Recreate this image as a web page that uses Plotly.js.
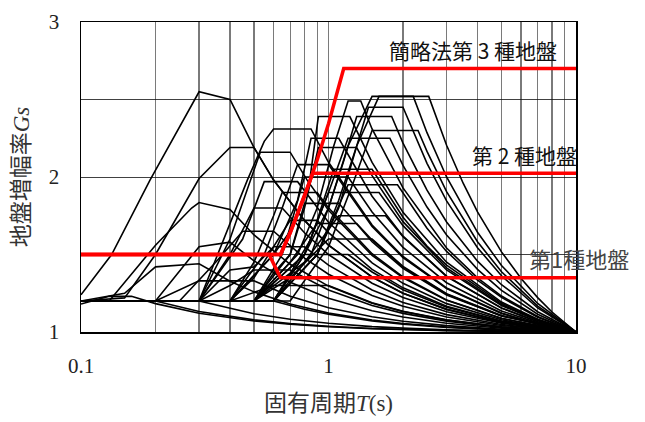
<!DOCTYPE html>
<html><head><meta charset="utf-8">
<script src="https://cdn.plot.ly/plotly-3.0.1.min.js"></script>
<style>body{margin:0;background:#fff}#c{width:645px;height:422px}</style>
</head><body><div id="c"></div>
<script>
// Axis ticks
const xTickVals = [0.1, 1, 10];
const xTickText = ['0.1', '1', '10'];
const xMinorVals = [0.2,0.3,0.4,0.5,0.6,0.7,0.8,0.9,2,3,4,5,6,7,8,9];
const yTickVals = [1, 2, 3];
const yMinorVals = [1.5, 2.5];

// Simplified method (red)
const R1_T = [0.1, 0.576, 0.6, 0.64, 10];
const R1_G = [1.5, 1.5, 1.44, 1.35, 1.35];
const R2_T = [0.1, 0.64, 0.7, 0.8, 0.864, 10];
const R2_G = [1.5, 1.5, 1.64, 1.875, 2.025, 2.025];
const R3_T = [0.1, 0.64, 0.7, 0.8, 0.9, 1.0, 1.152, 10];
const R3_G = [1.5, 1.5, 1.64, 1.875, 2.11, 2.344, 2.7, 2.7];

// Individual site curves (black)
const T01=[0.1,0.2,0.3,0.5,0.7,1,1.5,2,3,5,10];
const G01=[1.2,1.2,1.132,1.078,1.054,1.037,1.023,1.016,1.01,1.004,1];
const T02=[0.1,0.13,0.16,0.2,0.3,0.5,0.7,1,1.5,2,3,5,10];
const G02=[1.18,1.23,1.23,1.183,1.121,1.071,1.05,1.034,1.021,1.015,1.009,1.004,1];
const T03=[0.1,0.3,0.5,0.7,1,1.5,2,3,5,10];
const G03=[1.2,1.2,1.118,1.082,1.056,1.035,1.025,1.014,1.006,1];
const T04=[0.1,0.6,0.8,1,1.5,2,3,5,10];
const G04=[1.2,1.2,1.147,1.115,1.072,1.051,1.03,1.013,1];
const T05=[0.1,0.133,0.19,0.3,0.4,0.5,0.6,0.8,1,1.5,2,3,5,10];
const G05=[1.24,1.5,1.98,2.55,2.5,2.19,1.98,1.72,1.56,1.354,1.25,1.146,1.06,1];
const T06=[0.1,0.13,0.2,0.28,0.3,0.4,0.5,0.7,1,1.5,2,3,5,10];
const G06=[1.2,1.2,1.56,1.8,1.835,1.79,1.626,1.437,1.296,1.186,1.132,1.077,1.033,1];
const T08=[0.1,0.15,0.2,0.3,0.4,0.5,0.7,1,1.5,2,3,5,10];
const G08=[1.2,1.25,1.42,1.44,1.327,1.259,1.181,1.122,1.077,1.055,1.032,1.014,1];
const T09=[0.1,0.2,0.3,0.4,0.5,0.7,1,1.5,2,3,5,10];
const G09=[1.2,1.2,1.55,1.58,1.459,1.321,1.218,1.137,1.097,1.056,1.024,1];
const T10=[0.1,0.15,0.2,0.25,0.3,0.4,0.5,0.6,0.8,1,1.5,2,3,5,10];
const G10=[1.2,1.22,1.5,1.77,1.99,2.19,2.19,1.98,1.72,1.56,1.355,1.25,1.146,1.063,1];
const T11=[0.1,0.2,0.3,0.5,0.7,1,1.5,2,3,5,10];
const G11=[1.2,1.2,1.33,1.33,1.231,1.156,1.098,1.069,1.041,1.017,1];
const T12=[0.1,0.3,0.47,0.55,0.6,0.85,1,1.5,2,3,5,7,10];
const G12=[1.2,1.2,1.98,2.23,2.31,2.31,2.095,1.69,1.487,1.284,1.122,1.052,1];
const T13=[0.1,0.3,0.4,0.53,0.7,0.82,1,1.5,2,3,5,10];
const G13=[1.2,1.2,1.6,2.16,2.16,1.98,1.785,1.495,1.349,1.204,1.087,1];
const T14=[0.1,0.3,0.45,0.55,0.75,1,1.5,2,3,5,7,10];
const G14=[1.2,1.2,1.6,1.97,1.97,1.708,1.446,1.314,1.183,1.079,1.034,1];
const T15=[0.1,0.3,0.4,0.5,0.65,0.8,1,1.5,2,3,5,10];
const G15=[1.2,1.2,1.5,1.8,1.8,1.64,1.5,1.315,1.222,1.13,1.056,1];
const T16=[0.1,0.25,0.35,0.45,0.6,0.8,1,1.5,2,3,5,10];
const G16=[1.2,1.2,1.45,1.65,1.65,1.477,1.373,1.235,1.166,1.097,1.042,1];
const T17=[0.1,0.4,0.5,0.6,0.65,0.9,1,1.5,2,3,5,7,10];
const G17=[1.2,1.2,1.45,1.75,1.9,1.9,1.801,1.505,1.356,1.207,1.089,1.039,1];
const T18=[0.1,0.4,0.55,0.65,0.75,1,1.5,2,3,5,7,10];
const G18=[1.2,1.2,1.5,1.8,2.08,2.08,1.68,1.48,1.28,1.12,1.052,1];
const T19=[0.1,0.3,0.4,0.5,0.6,0.7,0.9,1,1.5,2,3,5,10];
const G19=[1.2,1.2,1.4,1.42,1.55,1.72,1.72,1.641,1.404,1.285,1.166,1.071,1];
const T20=[0.1,0.4,0.5,0.6,0.8,1,1.5,2,3,5,10];
const G20=[1.2,1.2,1.35,1.55,1.55,1.431,1.271,1.191,1.112,1.048,1];
const T21=[0.1,0.3,0.4,0.5,0.7,1,1.5,2,3,5,10];
const G21=[1.2,1.2,1.3,1.4,1.4,1.271,1.171,1.12,1.07,1.03,1];
const T22=[0.1,0.4,0.6,0.7,0.84,0.91,1.22,1.5,2,3,5,7,10];
const G22=[1.2,1.2,1.5,1.65,1.98,2.39,2.39,2.094,1.772,1.45,1.193,1.083,1];
const T23=[0.1,0.4,0.6,0.75,0.85,1.1,1.5,2,3,5,7,10];
const G23=[1.2,1.2,1.5,1.85,2.25,2.25,1.876,1.618,1.36,1.155,1.066,1];
const T24=[0.1,0.5,0.65,0.8,1.2,1.5,2,3,5,7,10];
const G24=[1.2,1.2,1.5,2.0,2.0,1.774,1.546,1.318,1.136,1.059,1];
const T25=[0.1,0.5,0.6,0.7,0.8,1.1,1.5,2,3,5,10];
const G25=[1.2,1.2,1.38,1.5,1.83,1.83,1.582,1.41,1.239,1.103,1];
const T26=[0.1,0.5,0.8,1.0,1.2,1.5,2.54,3,3.5,4,5,6,7,8,10];
const G26=[1.2,1.2,1.5,1.8,2.2,2.52,2.52,2.205,1.96,1.775,1.517,1.345,1.222,1.129,1];
const T27=[0.1,0.6,0.9,1.1,1.3,1.6,2.2,2.5,3,4,5,7,10];
const G27=[1.2,1.2,1.5,1.8,2.2,2.52,2.52,2.286,2.0,1.643,1.429,1.184,1];
const T28=[0.1,0.5,0.75,0.9,1.05,1.2,1.35,1.5,2,3,4,5,7,10];
const G28=[1.2,1.2,1.5,1.8,2.2,2.49,2.49,2.31,1.93,1.542,1.349,1.232,1.1,1];
const T29=[0.1,0.6,0.85,1.0,1.15,1.3,1.8,2,2.5,3,4,5,7,10];
const G29=[1.2,1.2,1.5,1.8,2.1,2.39,2.39,2.219,1.915,1.71,1.457,1.305,1.131,1];
const T30=[0.1,0.6,0.8,1.0,1.2,1.77,2,2.5,3,4,5,7,10];
const G30=[1.2,1.2,1.5,1.9,2.25,2.25,2.075,1.806,1.626,1.404,1.269,1.115,1];
const T31=[0.1,0.5,0.7,0.8,0.91,1.3,1.5,2,3,5,7,10];
const G31=[1.2,1.2,1.5,1.8,2.19,2.19,2.009,1.712,1.414,1.177,1.076,1];
const T33=[0.1,0.6,0.85,1.05,1.5,2,2.5,3,5,7,10];
const G33=[1.2,1.2,1.6,2.05,2.05,1.74,1.555,1.432,1.185,1.08,1];
const T34=[0.1,0.6,0.8,1.0,1.6,2,3,5,7,10];
const G34=[1.2,1.2,1.5,1.9,1.9,1.686,1.4,1.171,1.074,1];
const T35=[0.1,0.5,0.7,0.9,1.3,1.5,2,3,5,10];
const G35=[1.2,1.2,1.45,1.7,1.7,1.594,1.419,1.244,1.104,1];
const T36=[0.1,0.5,0.8,1.2,1.5,2,3,5,10];
const G36=[1.2,1.2,1.5,1.5,1.387,1.273,1.159,1.068,1];
const T37=[0.1,0.4,0.6,1.0,1.5,2,3,5,10];
const G37=[1.2,1.2,1.3,1.3,1.189,1.133,1.078,1.033,1];
const T38=[0.1,0.6,0.9,1.1,1.3,1.45,2.0,2.5,3,4,5,7,10];
const G38=[1.2,1.2,1.5,1.85,2.2,2.45,2.45,2.088,1.846,1.544,1.363,1.155,1];
const T39=[0.1,0.7,1.0,1.25,1.5,2.3,2.5,3,4,5,7,10];
const G39=[1.2,1.2,1.55,1.95,2.3,2.3,2.165,1.906,1.582,1.389,1.167,1];
const T40=[0.1,0.6,0.9,1.2,1.9,2.5,3,4,5,7,10];
const G40=[1.2,1.2,1.5,1.95,1.95,1.669,1.52,1.334,1.223,1.095,1];
const T41=[0.1,0.5,0.8,1.1,1.7,2,3,5,7,10];
const G41=[1.2,1.2,1.45,1.75,1.75,1.615,1.358,1.154,1.066,1];
const T42=[0.1,0.5,0.7,1.0,1.5,2,3,5,10];
const G42=[1.2,1.2,1.35,1.6,1.6,1.423,1.247,1.106,1];

const blackCurves = [
  [T01,G01],[T02,G02],[T03,G03],[T04,G04],[T05,G05],[T06,G06],[T08,G08],[T09,G09],
  [T10,G10],[T11,G11],[T12,G12],[T13,G13],[T14,G14],[T15,G15],[T16,G16],[T17,G17],
  [T18,G18],[T19,G19],[T20,G20],[T21,G21],[T22,G22],[T23,G23],[T24,G24],[T25,G25],
  [T26,G26],[T27,G27],[T28,G28],[T29,G29],[T30,G30],[T31,G31],[T33,G33],[T34,G34],
  [T35,G35],[T36,G36],[T37,G37],[T38,G38],[T39,G39],[T40,G40],[T41,G41],[T42,G42]
];
const redCurves = [[R1_T,R1_G],[R2_T,R2_G],[R3_T,R3_G]];

const traces = [];
blackCurves.forEach(c => traces.push({x:c[0], y:c[1], type:'scatter', mode:'lines',
  line:{color:'#000', width:1.6}, showlegend:false, hoverinfo:'skip'}));
redCurves.forEach(c => traces.push({x:c[0], y:c[1], type:'scatter', mode:'lines',
  line:{color:'#ff0000', width:3.5}, showlegend:false, hoverinfo:'skip'}));

const serifCJK = 'Liberation Serif, Noto Sans CJK JP, serif';
const layout = {
  width:645, height:422,
  margin:{l:81, r:69, t:22, b:90},
  paper_bgcolor:'#fff', plot_bgcolor:'#fff',
  showlegend:false,
  xaxis:{type:'log', range:[-1,1], tickmode:'array', tickvals:xTickVals, ticktext:xTickText,
    showgrid:true, gridcolor:'#7a7a7a', gridwidth:1.2,
    minor:{tickmode:'array', tickvals:xMinorVals, showgrid:true, gridcolor:'#7a7a7a', gridwidth:1.2, ticks:''},
    showline:true, mirror:true, linecolor:'#000', linewidth:1.5, ticks:'', zeroline:false,
    ticklabelstandoff:14,
    tickfont:{family:'Liberation Serif, serif', size:21, color:'#222'},
    title:{text:'固有周期<i>T</i>(s)', standoff:18, font:{family:serifCJK, size:23, color:'#333'}}},
  yaxis:{range:[1,3], tickmode:'array', tickvals:yTickVals,
    showgrid:true, gridcolor:'#111', gridwidth:0.8,
    minor:{tickmode:'array', tickvals:yMinorVals, showgrid:true, gridcolor:'#111', gridwidth:0.8, ticks:''},
    showline:true, mirror:true, linecolor:'#000', linewidth:1.5, ticks:'', zeroline:false,
    ticklabelstandoff:16,
    tickfont:{family:'Liberation Serif, serif', size:21, color:'#222'},
    title:{text:'地盤増幅率<i>Gs</i>', standoff:12, font:{family:serifCJK, size:23, color:'#333'}}},
  shapes:[
    {type:'rect', xref:'paper', yref:'paper', x0:0.604, x1:1.0, y0:0.858, y1:1.0, fillcolor:'#fff', line:{width:0}, layer:'between'},
    {type:'rect', xref:'paper', yref:'paper', x0:0.776, x1:1.0, y0:0.51, y1:0.616, fillcolor:'#fff', line:{width:0}, layer:'between'},
    {type:'rect', xref:'paper', yref:'paper', x0:0.883, x1:1.117, y0:0.181, y1:0.306, fillcolor:'#fff', line:{width:0}, layer:'between'}
  ],
  annotations:[
    {text:'簡略法第 3 種地盤', xref:'paper', yref:'paper', x:0.966, y:0.911, xanchor:'right', yanchor:'middle', showarrow:false,
      font:{family:'Noto Sans CJK JP, sans-serif', size:21, color:'#111'}},
    {text:'第 2 種地盤', xref:'paper', yref:'paper', x:1.006, y:0.571, xanchor:'right', yanchor:'middle', showarrow:false,
      font:{family:'Noto Sans CJK JP, sans-serif', size:21, color:'#111'}},
    {text:'第1種地盤', xref:'paper', yref:'paper', x:0.9, y:0.239, xanchor:'left', yanchor:'middle', showarrow:false,
      font:{family:'Noto Sans CJK JP, serif', size:22, color:'#444'}}
  ]
};
Plotly.newPlot('c', traces, layout, {staticPlot:true, displayModeBar:false});
</script></body></html>
